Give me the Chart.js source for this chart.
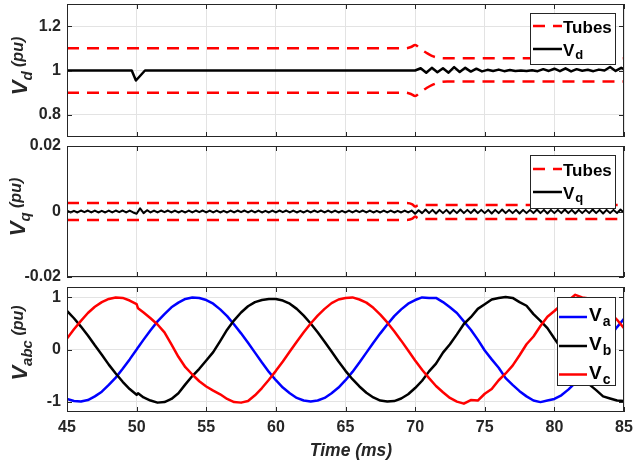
<!DOCTYPE html>
<html>
<head>
<meta charset="utf-8">
<script src="https://cdn.jsdelivr.net/npm/chart.js@4.4.0/dist/chart.umd.min.js"></script>
<style>
  html, body { margin: 0; padding: 0; background: #ffffff; }
  #wrap { position: relative; width: 633px; height: 466px; overflow: hidden; }
  #wrap canvas { position: absolute; left: 0; top: 0; }
</style>
</head>
<body>
<div id="wrap">
  <canvas id="cVd" width="633" height="466"></canvas>
  <canvas id="cVq" width="633" height="466"></canvas>
  <canvas id="cVabc" width="633" height="466"></canvas>
</div>
<script>
// ---------- tick labels ----------
const timeTicks = [45, 50, 55, 60, 65, 70, 75, 80, 85];
const vdTicks = [0.8, 1, 1.2];
const vqTicks = [-0.02, 0, 0.02];
const vabcTicks = [-1, 0, 1];

// ---------- d-axis voltage (pu) ----------
const tVd = [45, 49.65, 49.95, 50.6, 70, 70.4, 70.8, 71.2, 71.6, 72, 72.4, 72.8, 73.2, 73.6, 74, 74.4, 74.8,
  75.2, 75.6, 76, 76.4, 76.8, 77.2, 77.6, 78, 78.4, 78.8, 79.2, 79.6, 80, 80.4, 80.8, 81.2, 81.6, 82, 82.4,
  82.8, 83.2, 83.6, 84, 84.4, 84.8, 85.2];
const vd = [1, 1, 0.955, 1, 1.000, 1.010, 0.990, 1.012, 0.992, 1.010, 0.990, 1.015, 0.993, 1.012, 0.995, 1.008,
  0.996, 1.003, 0.998, 1.004, 0.997, 1.002, 0.998, 1.000, 0.998, 1.001, 0.997, 1.006, 0.998, 1.008, 0.997,
  1.010, 0.996, 1.006, 0.999, 1.003, 0.997, 1.004, 1.000, 1.016, 0.998, 1.012, 1.000];

// tube bounds around Vd
const tTube = [45, 69.3, 69.7, 70, 70.4, 70.8, 71.2, 71.7, 72.3, 85];
const vdUpper = [1.1, 1.1, 1.106, 1.115, 1.096, 1.08, 1.066, 1.057, 1.055, 1.055];
const vdLower = [0.9, 0.9, 0.894, 0.885, 0.904, 0.92, 0.934, 0.946, 0.95, 0.95];

// ---------- q-axis voltage (pu) ----------
const tq = [
  45, 45.25, 45.5, 45.75, 46, 46.25, 46.5, 46.75, 47, 47.25, 47.5, 47.75, 48, 48.25, 48.5, 48.75, 49, 49.25, 49.5, 49.75,
  50, 50.25, 50.5, 50.75, 51, 51.25, 51.5, 51.75, 52, 52.25, 52.5, 52.75, 53, 53.25, 53.5, 53.75, 54, 54.25, 54.5, 54.75,
  55, 55.25, 55.5, 55.75, 56, 56.25, 56.5, 56.75, 57, 57.25, 57.5, 57.75, 58, 58.25, 58.5, 58.75, 59, 59.25, 59.5, 59.75,
  60, 60.25, 60.5, 60.75, 61, 61.25, 61.5, 61.75, 62, 62.25, 62.5, 62.75, 63, 63.25, 63.5, 63.75, 64, 64.25, 64.5, 64.75,
  65, 65.25, 65.5, 65.75, 66, 66.25, 66.5, 66.75, 67, 67.25, 67.5, 67.75, 68, 68.25, 68.5, 68.75, 69, 69.25, 69.5, 69.75,
  70, 70.25, 70.5, 70.75, 71, 71.25, 71.5, 71.75, 72, 72.25, 72.5, 72.75, 73, 73.25, 73.5, 73.75, 74, 74.25, 74.5, 74.75,
  75, 75.25, 75.5, 75.75, 76, 76.25, 76.5, 76.75, 77, 77.25, 77.5, 77.75, 78, 78.25, 78.5, 78.75, 79, 79.25, 79.5, 79.75,
  80, 80.25, 80.5, 80.75, 81, 81.25, 81.5, 81.75, 82, 82.25, 82.5, 82.75, 83, 83.25, 83.5, 83.75, 84, 84.25, 84.5, 84.75,
  85];
const vq = [
  .0003, -.0003, .0002, -.0003, .0003, -.0002, .0003, -.0003, .0003, -.0003, .0002, -.0003, .0003, -.0003, .0003, -.0002, .0003, -.0003, .0003, -.0003,
  -.0007, .0010, -.0005, .0004, -.0003, .0003, -.0003, .0003, -.0002, .0003, -.0003, .0003, -.0003, .0002, -.0003, .0003, -.0003, .0003, -.0002, .0003,
  -.0003, .0003, -.0003, .0003, -.0003, .0002, -.0003, .0003, -.0003, .0003, -.0002, .0003, -.0003, .0003, -.0003, .0003, -.0003, .0002, -.0003, .0003,
  -.0003, .0003, -.0002, .0003, -.0003, .0003, -.0003, .0002, -.0003, .0003, -.0003, .0003, -.0002, .0003, -.0003, .0003, -.0003, .0003, -.0003, .0002,
  -.0003, .0003, -.0003, .0003, -.0002, .0003, -.0003, .0003, -.0003, .0002, -.0003, .0003, -.0003, .0003, -.0003, .0002, -.0003, .0003, -.0003, .0003,
  -.0007, .0004, -.0005, .0006, -.0005, .0005, -.0006, .0005, -.0005, .0005, -.0006, .0005, -.0005, .0006, -.0005, .0005, -.0005, .0006, -.0005, .0005,
  -.0005, .0005, -.0006, .0005, -.0005, .0006, -.0005, .0005, -.0005, .0005, -.0006, .0005, -.0005, .0005, -.0005, .0006, -.0005, .0005, -.0006, .0005,
  -.0005, .0005, -.0005, .0006, -.0005, .0005, -.0006, .0005, -.0005, .0005, -.0005, .0006, -.0005, .0005, -.0006, .0005, -.0005, .0005, -.0005, .0006,
  -.0004];

// tube bounds around Vq
const tqTube = [45, 69.4, 69.8, 70, 70.2, 70.6, 85];
const vqUpper = [0.0026, 0.0026, 0.0022, 0.0015, 0.0019, 0.002, 0.002];
const vqLower = [-0.0026, -0.0026, -0.0022, -0.0015, -0.0021, -0.0023, -0.0023];

// ---------- phase voltages (pu) ----------
const t = [45, 45.5, 46, 46.5, 47, 47.5, 48, 48.5, 49, 49.5, 50, 50.1,
  50.5, 51, 51.5, 52, 52.5, 53, 53.5, 54, 54.5, 55,
  55.5, 56, 56.5, 57, 57.5, 58, 58.5, 59, 59.5, 60,
  60.5, 61, 61.5, 62, 62.5, 63, 63.5, 64, 64.5, 65,
  65.5, 66, 66.5, 67, 67.5, 68, 68.5, 69, 69.5, 70,
  70.5, 71, 71.5, 72, 72.5, 73, 73.5, 74, 74.5, 75,
  75.5, 76, 76.5, 77, 77.5, 78, 78.5, 79, 79.5, 80,
  80.5, 81, 81.5, 82, 82.5, 83, 83.5, 84, 84.5, 85];
const va = [-0.95, -0.99, -1.00, -0.97, -0.90, -0.81, -0.68, -0.54, -0.37, -0.19, 0.00, 0.04,
  0.19, 0.37, 0.54, 0.68, 0.81, 0.90, 0.97, 1.00, 0.99, 0.95,
  0.88, 0.77, 0.64, 0.48, 0.31, 0.13, -0.06, -0.25, -0.43, -0.59,
  -0.73, -0.84, -0.93, -0.98, -1.00, -0.98, -0.93, -0.84, -0.73, -0.59,
  -0.43, -0.25, -0.06, 0.13, 0.31, 0.48, 0.64, 0.77, 0.88, 0.95,
  1.00, 0.99, 0.99, 0.91, 0.81, 0.70, 0.54, 0.38, 0.19, -0.02,
  -0.19, -0.35, -0.55, -0.68, -0.80, -0.90, -0.98, -1.01, -0.98, -0.95,
  -0.88, -0.77, -0.64, -0.48, -0.31, -0.13, 0.06, 0.25, 0.43, 0.59];
const vb = [0.74, 0.60, 0.44, 0.27, 0.08, -0.10, -0.29, -0.46, -0.62, -0.76, -0.87, -0.84,
  -0.92, -0.98, -1.02, -1.01, -0.95, -0.84, -0.67, -0.51, -0.37, -0.21,
  -0.05, 0.16, 0.38, 0.56, 0.71, 0.83, 0.91, 0.95, 0.97, 0.97,
  0.94, 0.88, 0.78, 0.65, 0.50, 0.33, 0.15, -0.04, -0.23, -0.41,
  -0.57, -0.71, -0.83, -0.92, -0.98, -1.00, -0.99, -0.94, -0.86, -0.74,
  -0.60, -0.42, -0.27, -0.06, 0.10, 0.29, 0.49, 0.62, 0.78, 0.87,
  0.96, 0.99, 1.01, 0.99, 0.91, 0.84, 0.68, 0.55, 0.41, 0.21,
  0.02, -0.17, -0.35, -0.52, -0.67, -0.78, -0.90, -0.94, -0.98, -0.99];
const vc = [0.21, 0.39, 0.55, 0.70, 0.82, 0.91, 0.97, 1.00, 0.99, 0.94, 0.87, 0.79,
  0.71, 0.60, 0.48, 0.33, 0.10, -0.14, -0.34, -0.48, -0.61, -0.71,
  -0.79, -0.86, -0.95, -1.01, -1.02, -0.99, -0.88, -0.74, -0.58, -0.41,
  -0.23, -0.04, 0.15, 0.33, 0.50, 0.65, 0.78, 0.89, 0.96, 0.99,
  1.00, 0.96, 0.90, 0.80, 0.67, 0.52, 0.35, 0.17, -0.02, -0.21,
  -0.39, -0.55, -0.70, -0.82, -0.93, -1.00, -1.04, -0.97, -0.98, -0.85,
  -0.76, -0.59, -0.46, -0.31, -0.11, 0.10, 0.25, 0.45, 0.63, 0.74,
  0.86, 0.94, 1.05, 1.00, 0.98, 0.92, 0.83, 0.71, 0.57, 0.41];

// ---------- styling ----------
const FONT = "'Liberation Sans', Arial, Helvetica, sans-serif";
const INK = '#262626';
const GRID = '#e3e3e3';
const RED = '#ff0000', BLUE = '#0000ff', BLACK = '#000000';
const TUBE_DASH = [12, 8];

function toPoints(xs, ys) { return xs.map((x, i) => ({ x: x, y: ys[i] })); }
function fixedTicks(values) { return scale => { scale.ticks = values.map(v => ({ value: v })); }; }

function drawFrame(chart) {
  const ctx = chart.ctx, a = chart.chartArea;
  const L = 5;
  ctx.save();
  ctx.strokeStyle = INK;
  ctx.lineWidth = 1;
  ctx.strokeRect(a.left + 0.5, a.top + 0.5, a.right - a.left - 1, a.bottom - a.top - 1);
  ctx.beginPath();
  chart.scales.x.ticks.forEach(tk => {
    const px = Math.round(chart.scales.x.getPixelForValue(tk.value)) + 0.5;
    ctx.moveTo(px, a.bottom); ctx.lineTo(px, a.bottom - L);
    ctx.moveTo(px, a.top); ctx.lineTo(px, a.top + L);
  });
  chart.scales.y.ticks.forEach(tk => {
    const py = Math.round(chart.scales.y.getPixelForValue(tk.value)) + 0.5;
    ctx.moveTo(a.left, py); ctx.lineTo(a.left + L, py);
    ctx.moveTo(a.right, py); ctx.lineTo(a.right - L, py);
  });
  ctx.stroke();
  ctx.restore();
}

// rotated axis title "V_sub (pu)"
function drawYTitle(ctx, sub, bx, cy) {
  const fV = 'italic bold 22px ' + FONT;
  const fS = 'italic bold 15px ' + FONT;
  const fP = 'italic bold 16px ' + FONT;
  ctx.save();
  ctx.fillStyle = INK;
  ctx.textAlign = 'left';
  ctx.textBaseline = 'alphabetic';
  ctx.font = fV; const wV = ctx.measureText('V').width;
  ctx.font = fS; const wS = ctx.measureText(sub).width;
  ctx.font = fP; const wP = ctx.measureText(' (pu)').width;
  ctx.translate(bx, cy);
  ctx.rotate(-Math.PI / 2);
  let x = -(wV + wS + wP) / 2;
  ctx.font = fV; ctx.fillText('V', x, 0); x += wV;
  ctx.font = fS; ctx.fillText(sub, x, 5); x += wS;
  ctx.font = fP; ctx.fillText(' (pu)', x, -4);
  ctx.restore();
}

function drawLegend(ctx, lg) {
  ctx.save();
  ctx.fillStyle = '#ffffff';
  ctx.fillRect(lg.x, lg.y, lg.w, lg.h);
  ctx.strokeStyle = INK;
  ctx.lineWidth = 1;
  ctx.strokeRect(lg.x + 0.5, lg.y + 0.5, lg.w, lg.h);
  lg.items.forEach(it => {
    ctx.beginPath();
    ctx.setLineDash(it.dash || []);
    ctx.strokeStyle = it.color;
    ctx.lineWidth = 2.5;
    ctx.moveTo(lg.x + lg.l0, it.y);
    ctx.lineTo(lg.x + lg.l1, it.y);
    ctx.stroke();
    ctx.setLineDash([]);
    ctx.fillStyle = '#000000';
    ctx.textAlign = 'left';
    ctx.textBaseline = 'alphabetic';
    ctx.font = 'bold ' + lg.size + 'px ' + FONT;
    const tx = lg.x + lg.tx;
    ctx.fillText(it.label, tx, it.y + lg.dy);
    if (it.sub) {
      const w = ctx.measureText(it.label).width;
      ctx.font = 'bold ' + lg.subSize + 'px ' + FONT;
      ctx.fillText(it.sub, tx + w + 1, it.y + lg.subDy);
    }
  });
  ctx.restore();
}

function decor(cfg) {
  return {
    id: 'decor' + cfg.sub,
    afterDraw(chart) {
      const ctx = chart.ctx;
      drawFrame(chart);
      drawYTitle(ctx, cfg.sub, cfg.titleX, cfg.titleY);
      drawLegend(ctx, cfg.legend);
      if (cfg.xTitle) {
        ctx.save();
        ctx.fillStyle = INK;
        ctx.font = 'italic bold 17.5px ' + FONT;
        ctx.textAlign = 'center';
        ctx.textBaseline = 'alphabetic';
        ctx.fillText(cfg.xTitle, 351, 456);
        ctx.restore();
      }
    }
  };
}

function panel(id, p) {
  const xh = p.showX ? 466 - p.bottom : 0;
  return new Chart(document.getElementById(id), {
    type: 'line',
    data: { datasets: p.datasets },
    options: {
      responsive: false,
      animation: false,
      devicePixelRatio: 1,
      events: [],
      layout: { padding: { left: 0, right: 633 - 624, top: p.top, bottom: 466 - p.bottom - xh } },
      plugins: { legend: { display: false }, tooltip: { enabled: false } },
      elements: {
        point: { radius: 0 },
        line: { tension: 0, borderCapStyle: 'butt', borderJoinStyle: 'round', fill: false }
      },
      scales: {
        x: {
          type: 'linear', min: 45, max: 85,
          afterBuildTicks: fixedTicks(timeTicks),
          afterFit: s => { s.height = xh; s.paddingLeft = 0; s.paddingRight = 0; },
          grid: { color: GRID, lineWidth: 1, drawTicks: false },
          border: { display: false },
          ticks: {
            display: !!p.showX, padding: 6, color: INK, autoSkip: false, maxRotation: 0,
            font: { family: FONT, size: 16, weight: 'bold' },
            callback: v => String(v)
          }
        },
        y: {
          type: 'linear', min: p.ymin, max: p.ymax,
          afterBuildTicks: fixedTicks(p.yTicks),
          afterFit: s => { s.width = 67; s.paddingTop = 0; s.paddingBottom = 0; },
          grid: { color: GRID, lineWidth: 1, drawTicks: false },
          border: { display: false },
          ticks: {
            padding: 6, color: INK,
            font: { family: FONT, size: 16, weight: 'bold' },
            callback: v => String(v)
          }
        }
      }
    },
    plugins: [decor(p.decor)]
  });
}

// Vd panel
panel('cVd', {
  top: 4, bottom: 137, ymin: 0.7, ymax: 1.3, yTicks: vdTicks,
  datasets: [
    { data: toPoints(tTube, vdUpper), borderColor: RED, borderWidth: 2.5, borderDash: TUBE_DASH, cubicInterpolationMode: 'monotone', order: 2 },
    { data: toPoints(tTube, vdLower), borderColor: RED, borderWidth: 2.5, borderDash: TUBE_DASH, cubicInterpolationMode: 'monotone', order: 2 },
    { data: toPoints(tVd, vd), borderColor: BLACK, borderWidth: 2.5, order: 1 }
  ],
  decor: {
    sub: 'd', titleX: 27, titleY: 66,
    legend: {
      x: 530, y: 13, w: 85, h: 51, l0: 3, l1: 32, tx: 33, size: 17, dy: 6.5, subSize: 13, subDy: 10,
      items: [
        { y: 26, color: RED, dash: TUBE_DASH, label: 'Tubes' },
        { y: 49, color: BLACK, label: 'V', sub: 'd' }
      ]
    }
  }
});

// Vq panel
panel('cVq', {
  top: 146, bottom: 277, ymin: -0.02, ymax: 0.02, yTicks: vqTicks,
  datasets: [
    { data: toPoints(tqTube, vqUpper), borderColor: RED, borderWidth: 2.5, borderDash: TUBE_DASH, cubicInterpolationMode: 'monotone', order: 2 },
    { data: toPoints(tqTube, vqLower), borderColor: RED, borderWidth: 2.5, borderDash: TUBE_DASH, cubicInterpolationMode: 'monotone', order: 2 },
    { data: toPoints(tq, vq), borderColor: BLACK, borderWidth: 2, order: 1 }
  ],
  decor: {
    sub: 'q', titleX: 25, titleY: 207,
    legend: {
      x: 530, y: 155, w: 85, h: 53, l0: 3, l1: 32, tx: 33, size: 17, dy: 6.5, subSize: 13, subDy: 10,
      items: [
        { y: 169, color: RED, dash: TUBE_DASH, label: 'Tubes' },
        { y: 192, color: BLACK, label: 'V', sub: 'q' }
      ]
    }
  }
});

// Vabc panel
panel('cVabc', {
  top: 287, bottom: 412, ymin: -1.2, ymax: 1.2, yTicks: vabcTicks, showX: true,
  datasets: [
    { data: toPoints(t, va), borderColor: BLUE, borderWidth: 2.5, order: 3 },
    { data: toPoints(t, vb), borderColor: BLACK, borderWidth: 2.5, order: 2 },
    { data: toPoints(t, vc), borderColor: RED, borderWidth: 2.5, order: 1 }
  ],
  decor: {
    sub: 'abc', titleX: 27, titleY: 343, xTitle: 'Time (ms)',
    legend: {
      x: 557, y: 297, w: 58, h: 88, l0: 2, l1: 30, tx: 32, size: 19, dy: 4, subSize: 14, subDy: 9,
      items: [
        { y: 317, color: BLUE, label: 'V', sub: 'a' },
        { y: 346, color: BLACK, label: 'V', sub: 'b' },
        { y: 374.5, color: RED, label: 'V', sub: 'c' }
      ]
    }
  }
});
</script>
</body>
</html>
